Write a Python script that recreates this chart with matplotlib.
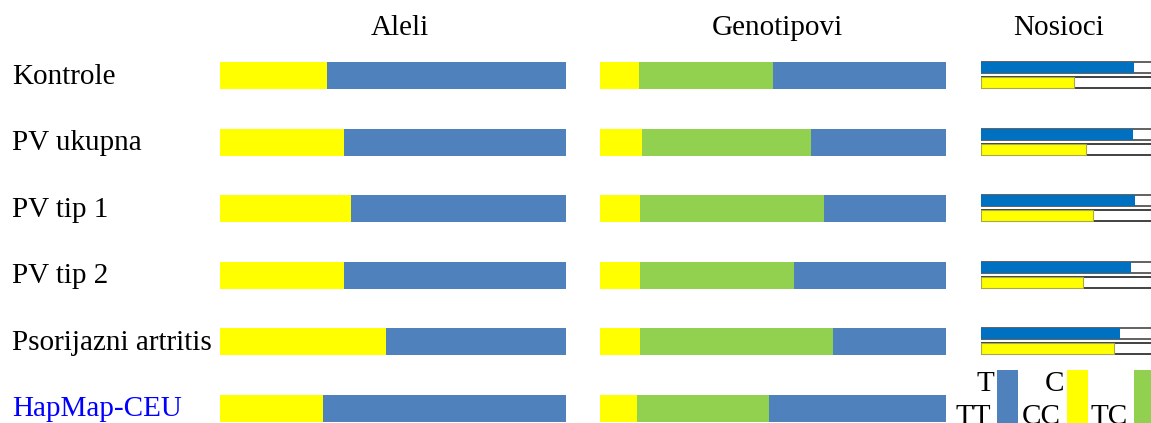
import numpy as np
import matplotlib
matplotlib.use("Agg")
import matplotlib.pyplot as plt
from matplotlib.patches import Rectangle

# data (percent)
groups = ["Kontrole", "PV ukupna", "PV tip 1", "PV tip 2", "Psorijazni artritis", "HapMap-CEU"]
allele_c = [31.0, 35.9, 38.0, 35.9, 48.1, 29.9]          # yellow
allele_t = [100 - v for v in allele_c]                     # blue
geno_cc = [11.3, 12.2, 11.6, 11.6, 11.6, 10.7]             # yellow
geno_tc = [38.8, 48.7, 53.2, 44.6, 55.6, 38.2]             # green
geno_tt = [100 - a - b for a, b in zip(geno_cc, geno_tc)]  # blue
carrier_t = [88.4, 87.9, 89.0, 86.7, 80.3]                 # blue, no HapMap row
carrier_c = [53.8, 60.9, 64.7, 59.0, 76.9]                 # yellow

YELLOW = "#FFFF00"
BLUE = "#4F81BD"
GREEN = "#92D050"
DBLUE = "#0070C0"
W, H = 1151, 423
FS = 21

plt.rcParams['font.family'] = ['Liberation Serif', 'DejaVu Serif']
fig = plt.figure(figsize=(W / 100, H / 100), dpi=100)

# row geometry (pixels)
row0, step = 75.5, 66.6
ylim = ((H - row0) / step, -row0 / step)
bar_h = 27 / step

def make_ax(x0, x1):
    ax = fig.add_axes([x0 / W, 0, (x1 - x0) / W, 1])
    ax.set_xlim(0, 100)
    ax.set_ylim(*ylim)
    ax.axis("off")
    return ax

y = np.arange(len(groups))

ax1 = make_ax(220, 565.5)
ax1.barh(y, allele_c, height=bar_h, color=YELLOW, linewidth=0)
ax1.barh(y, allele_t, left=allele_c, height=bar_h, color=BLUE, linewidth=0)

ax2 = make_ax(600, 946)
ax2.barh(y, geno_cc, height=bar_h, color=YELLOW, linewidth=0)
ax2.barh(y, geno_tc, left=geno_cc, height=bar_h, color=GREEN, linewidth=0)
ax2.barh(y, geno_tt, left=np.add(geno_cc, geno_tc), height=bar_h,
         color=BLUE, linewidth=0)

ax3 = make_ax(981, 1154)
yc = np.arange(len(carrier_t))
sub_h = 11 / step
off_t, off_c = -8 / step, 7 / step
ax3.barh(yc + off_t, 100, height=sub_h, color="white", edgecolor="#555555", linewidth=1.3)
ax3.barh(yc + off_t, carrier_t, height=sub_h, color=DBLUE, linewidth=0)
ax3.barh(yc + off_c, 100, height=sub_h, color="white", edgecolor="#333333", linewidth=1.3)
ax3.barh(yc + off_c, carrier_c, height=sub_h, color=YELLOW, edgecolor="#AAAA44", linewidth=0.8)

# overlay in pixel coordinates for texts and legend
ov = fig.add_axes([0, 0, 1, 1])
ov.set_xlim(0, W)
ov.set_ylim(H, 0)
ov.axis("off")
ov.patch.set_alpha(0)

for i, g in enumerate(groups):
    ov.text(12, row0 + step * i + 1, g, fontsize=FS, va="center", ha="left",
            color="#0000FF" if g == "HapMap-CEU" else "black")

ov.text(400, 28, "Aleli", fontsize=FS, ha="center", va="center")
ov.text(777, 28, "Genotipovi", fontsize=FS, ha="center", va="center")
ov.text(1059, 28, "Nosioci", fontsize=FS, ha="center", va="center")

# legend (partly cut by the bottom edge, as in the original)
legend = [("T", "TT", BLUE, 997), ("C", "CC", YELLOW, 1067), ("", "TC", GREEN, 1134)]
for top, bottom, col, x in legend:
    ov.add_patch(Rectangle((x, 370), 21, 60, color=col, linewidth=0))
    if top:
        ov.text(x - 3, 384, top, fontsize=FS, ha="right", va="center")
    ov.text(x - 6, 417, bottom, fontsize=FS, ha="right", va="center")

fig.savefig("out.png", dpi=100)
